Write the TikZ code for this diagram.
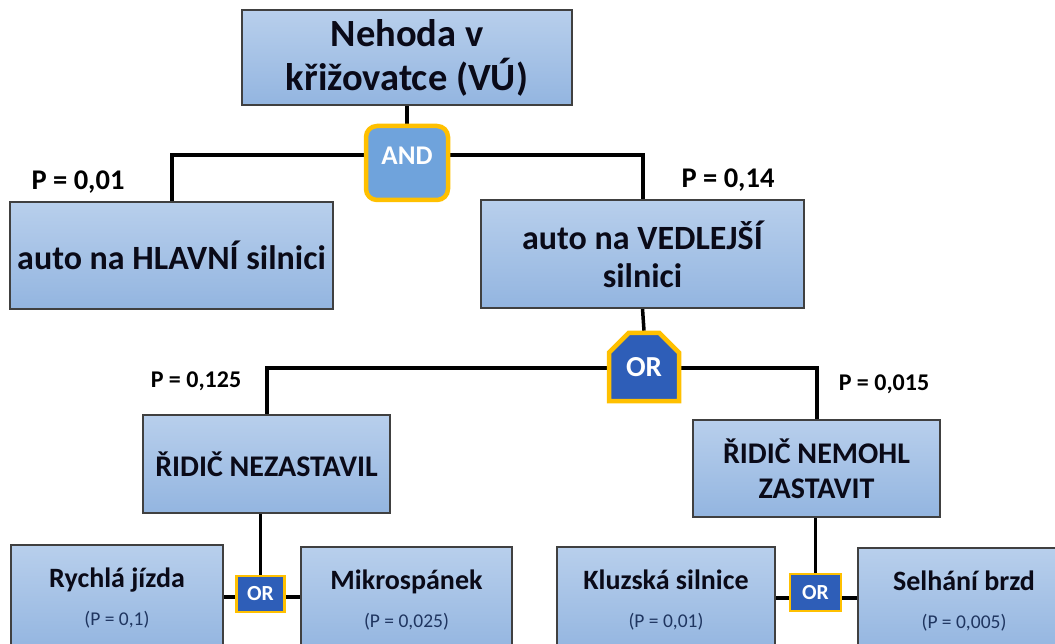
\documentclass[tikz,border=0pt]{standalone}
\usepackage{fontspec}
\setmainfont{Carlito}
\usetikzlibrary{shapes.misc,backgrounds}
\definecolor{boxtop}{HTML}{B8CFEC}
\definecolor{boxbot}{HTML}{93B5E0}
\definecolor{boxedge}{HTML}{404040}
\definecolor{txt}{HTML}{0A0A18}
\definecolor{ptxt}{HTML}{1F3560}
\definecolor{gold}{HTML}{FFC000}
\definecolor{andfill}{HTML}{6FA3DC}
\definecolor{orfill}{HTML}{2E5EB8}
\begin{document}
\begin{tikzpicture}[x=1pt,y=-1pt,
  box/.style={draw=boxedge, line width=1.3pt, top color=boxtop, bottom color=boxbot,
    inner sep=0pt, font=\bfseries, text=txt, align=center},
  gate/.style={draw=gold, text=white, font=\bfseries, inner sep=0pt},
  wire/.style={line width=3.5pt, black},
  plabel/.style={font=\bfseries\fontsize{24}{28}\selectfont, text=black, inner sep=0pt},
  biglabel/.style={plabel, font=\bfseries\fontsize{28.5}{32}\selectfont}]
\newcommand{\probtxt}[1]{{\mdseries\fontsize{19.5}{22}\selectfont\color{ptxt}#1}}
\useasboundingbox (0,0) rectangle (1055,644);
\clip (0,0) rectangle (1055,644);
% top
\node[box, minimum width=330pt, minimum height=95pt, font=\bfseries\fontsize{38.5}{44}\selectfont] (top) at (407,57.5) {Nehoda v\\křižovatce (VÚ)};
\node[gate, fill=andfill, line width=4.5pt, rounded corners=11pt, minimum width=82pt, minimum height=74pt, font=\bfseries\fontsize{27}{30}\selectfont, text depth=0pt] (and) at (407,163) {\raisebox{14pt}{AND}};
\node[box, minimum width=323pt, minimum height=107pt, font=\bfseries\fontsize{34}{38}\selectfont] (hl) at (171.5,255.5) {auto na HLAVNÍ silnici};
\node[box, minimum width=323pt, minimum height=108pt, font=\bfseries\fontsize{34}{38}\selectfont] (ved) at (642.5,254) {auto na VEDLEJŠÍ\\silnici};
\node[biglabel] (p1) at (78,182) {P = 0,01};
\node[biglabel] (p2) at (728,180) {P = 0,14};
% big OR
\node[gate, chamfered rectangle, chamfered rectangle corners={north west,north east}, chamfered rectangle xsep=10pt, chamfered rectangle ysep=10pt, fill=orfill, line width=4.5pt, minimum width=70pt, minimum height=68pt, font=\bfseries\fontsize{29}{32}\selectfont] (or) at (644,367) {OR};
\node[box, minimum width=247pt, minimum height=98pt, font=\bfseries\fontsize{30}{35}\selectfont] (nez) at (266.5,464) {ŘIDIČ NEZASTAVIL};
\node[box, minimum width=247pt, minimum height=97pt, font=\bfseries\fontsize{30}{35}\selectfont] (nem) at (816.5,468.5) {ŘIDIČ NEMOHL\\ZASTAVIT};
\node[plabel] (p3) at (196,381) {P = 0,125};
\node[plabel] (p4) at (884,384) {P = 0,015};
% small ORs
\node[gate, fill=orfill, line width=2.5pt, minimum width=48pt, minimum height=36pt, font=\bfseries\fontsize{21.5}{24}\selectfont] (or1) at (260.5,594) {OR};
\node[gate, fill=orfill, line width=2.5pt, minimum width=51pt, minimum height=37pt, font=\bfseries\fontsize{21.5}{24}\selectfont] (or2) at (815.5,592.5) {OR};
% bottom boxes
\node[box, minimum width=212pt, minimum height=106pt, font=\bfseries\fontsize{28}{32}\selectfont] (rj) at (117,598) {Rychlá jízda\\[6pt]\probtxt{(P = 0,1)}};
\node[box, minimum width=211pt, minimum height=106pt, font=\bfseries\fontsize{28}{32}\selectfont] (mk) at (406.5,600) {Mikrospánek\\[6pt]\probtxt{(P = 0,025)}};
\node[box, minimum width=218pt, minimum height=106pt, font=\bfseries\fontsize{28}{32}\selectfont] (kl) at (666,600) {Kluzská silnice\\[6pt]\probtxt{(P = 0,01)}};
\node[box, minimum width=212pt, minimum height=106pt, font=\bfseries\fontsize{28}{32}\selectfont] (sb) at (964,601) {Selhání brzd\\[6pt]\probtxt{(P = 0,005)}};
\begin{scope}[on background layer]
\draw[wire] (top.south) -- (and.north);
\draw[wire] (hl.north -| 172,0) -- (172,155) -- (643,155) -- (ved.north -| 643,0);
\draw[wire] (ved.south) -- (or.north);
\draw[wire] (nez.north -| 267,0) -- (267,368) -- (817,368) -- (nem.north -| 817,0);
\draw[wire] (nez.south -| or1.north) -- (or1.north);
\draw[wire] (nem.south -| or2.north) -- (or2.north);
\draw[wire] (rj.east |- 0,597) -- (mk.west |- 0,597);
\draw[wire] (kl.east |- 0,598) -- (sb.west |- 0,598);
\end{scope}
\end{tikzpicture}
\end{document}
